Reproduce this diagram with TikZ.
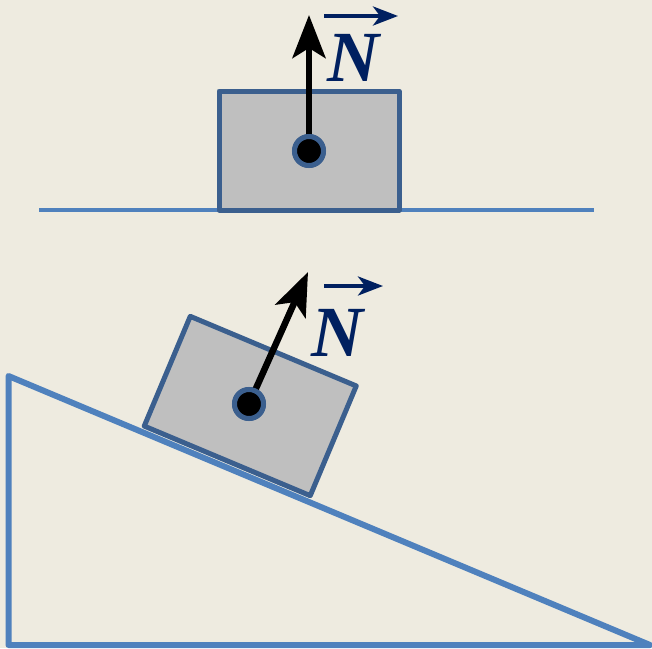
\documentclass[tikz,border=0pt]{standalone}
\usepackage{fontspec}
\newfontfamily\nfont{Liberation Serif}
\usetikzlibrary{arrows.meta}
\definecolor{bgc}{HTML}{EEEBE0}
\definecolor{lineblue}{HTML}{4F81BD}
\definecolor{blockedge}{HTML}{3B5F8E}
\definecolor{blockfill}{HTML}{BFBFBF}
\definecolor{navy}{HTML}{002060}
\begin{document}
\begin{tikzpicture}[x=1pt,y=-1pt,
  ground/.style={draw=lineblue,line width=4.5pt},
  incline/.style={draw=lineblue,line width=6pt,line join=round},
  blockbox/.style={draw=blockedge,fill=blockfill,line width=5pt,line join=round,
    minimum width=180pt,minimum height=119pt,inner sep=0pt,outer sep=0pt},
  dotnode/.style={circle,draw=blockedge,fill=black,line width=5pt,minimum size=29pt,inner sep=0pt},
  force/.style={draw=black,line width=6.5pt,-{Stealth[length=43pt,width=33pt,inset=10pt]}},
  vecarrow/.style={draw=navy,line width=4pt,-{Stealth[length=25pt,width=19pt,inset=7pt]}},
  label/.style={text=navy,font=\nfont\bfseries\itshape\fontsize{72}{75}\selectfont,inner sep=0pt,anchor=base}
]
\fill[bgc] (0,0) rectangle (652,648);
\useasboundingbox (0,0) rectangle (652,648);

% top scene
\coordinate (g1) at (39,210);
\coordinate (g2) at (594,210);
\draw[ground] (g1) -- (g2);
\node[blockbox] (block1) at (309,150.5) {};
\coordinate (tip1) at (309,15);
\node[dotnode] (dot1) at (309,151) {};
\draw[force] (dot1.center) -- (tip1);
\node[dotnode] at (dot1.center) {};
\node[label] (N1) at (353,81) {N};
\coordinate (v1s) at (324,16);
\coordinate (v1e) at (398,16);
\draw[vecarrow] (v1s) -- (v1e);

% bottom scene
\coordinate (t1) at (8.5,376);
\coordinate (t2) at (8.5,645);
\coordinate (t3) at (650,645);
\draw[incline] (t1) -- (t2) -- (t3) -- cycle;
\node[blockbox,rotate=-22.75] (block2) at (250.25,406) {};
\coordinate (tip2) at (308,272);
\node[dotnode] (dot2) at (249,404) {};
\draw[force] (dot2.center) -- (tip2);
\node[dotnode] at (dot2.center) {};
\node[label] (N2) at (337,356) {N};
\coordinate (v2s) at (324,286);
\coordinate (v2e) at (383,286);
\draw[vecarrow] (v2s) -- (v2e);
\end{tikzpicture}
\end{document}
